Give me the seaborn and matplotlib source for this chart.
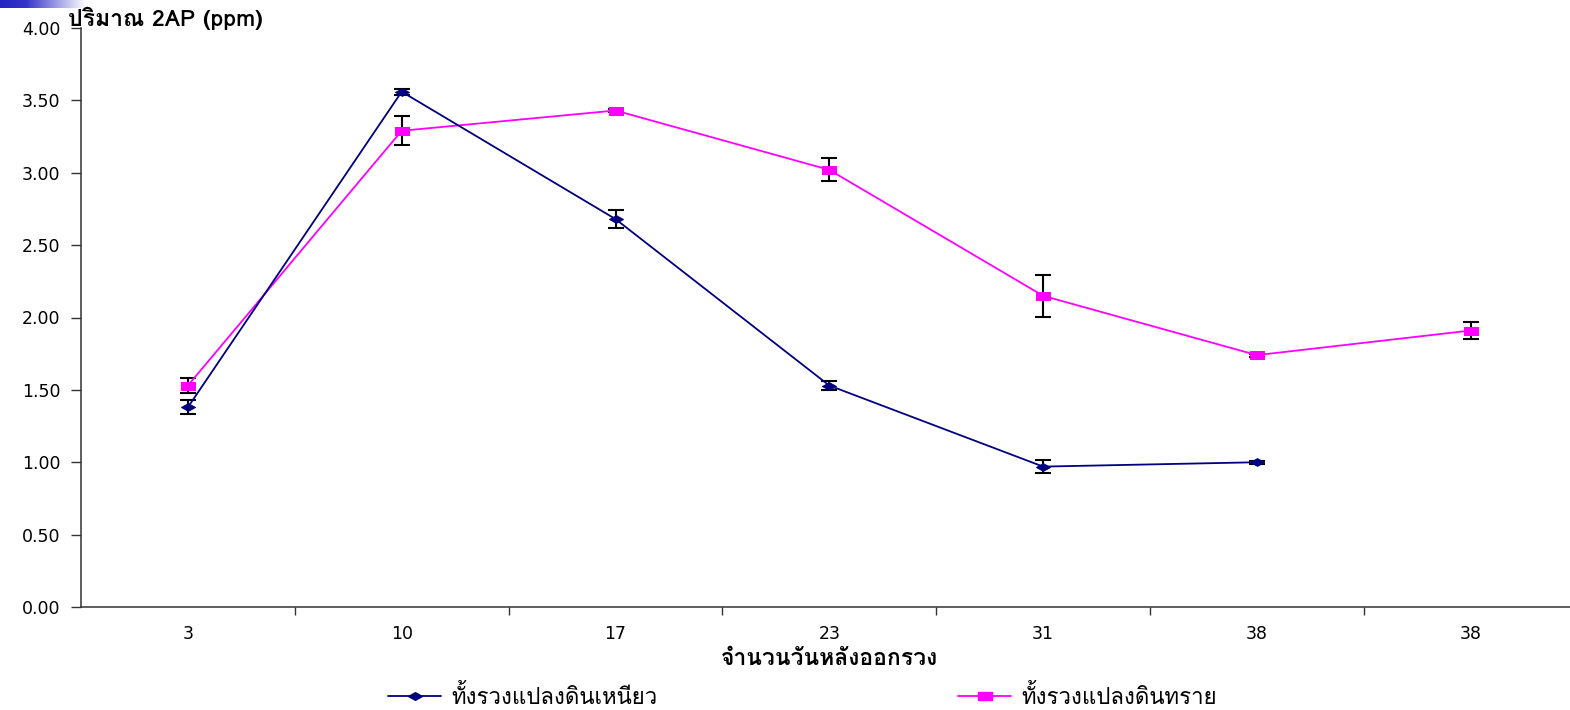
import numpy as np
import pandas as pd
import matplotlib
matplotlib.use("Agg")
import matplotlib.pyplot as plt
from matplotlib.lines import Line2D
from matplotlib.ticker import FixedLocator, FormatStrFormatter
from matplotlib.colors import LinearSegmentedColormap
import seaborn as sns

# Days after bunch emergence (tick labels) and 2AP content in ppm
day_labels = ["3", "10", "17", "23", "31", "38", "38"]
clay_values = [1.38, 3.56, 2.68, 1.53, 0.97, 1.00, np.nan]
clay_errors = [0.05, 0.02, 0.06, 0.03, 0.045, 0.01, np.nan]
sand_values = [1.53, 3.29, 3.43, 3.02, 2.15, 1.74, 1.91]
sand_errors = [0.05, 0.10, 0.01, 0.08, 0.145, 0.01, 0.06]

clay_label = "ทั้งรวงแปลงดินเหนียว"
sand_label = "ทั้งรวงแปลงดินทราย"
y_title = "ปริมาณ 2AP (ppm)"
x_title = "จำนวนวันหลังออกรวง"

CLAY_COLOR = "#000080"
SAND_COLOR = "#FF00FF"
AXIS_COLOR = "#333333"

sns.set_style("ticks")
# Thai text in Loma; numbers in the wider DejaVu Sans
THAI = ["Loma", "DejaVu Sans"]
NUM = ["DejaVu Sans", "Loma"]
plt.rcParams["font.family"] = NUM
plt.rcParams["text.color"] = "black"
plt.rcParams["xtick.labelcolor"] = "black"
plt.rcParams["ytick.labelcolor"] = "black"

df = pd.DataFrame({
    "pos": np.arange(len(day_labels)),
    "clay": clay_values,
    "clay_err": clay_errors,
    "sand": sand_values,
    "sand_err": sand_errors,
})
clay_df = df.dropna(subset=["clay"])

W, H = 1570, 710
fig = plt.figure(figsize=(W / 100, H / 100), dpi=100)
fig.patch.set_facecolor("white")

# Plot area runs slightly past the right edge of the slide
left_px, right_px, top_px, bottom_px = 81, 1577.6, 28, 607
ax = fig.add_axes([left_px / W, 1 - bottom_px / H,
                   (right_px - left_px) / W, (bottom_px - top_px) / H])

# Flattened diamond and rectangle markers
diamond = [(-1, 0), (0, 0.55), (1, 0), (0, -0.55), (-1, 0)]
rect = [(-1, -0.62), (1, -0.62), (1, 0.62), (-1, 0.62), (-1, -0.62)]
MS = 10

err_kw = dict(fmt="none", ecolor="black", elinewidth=1.5, capsize=5.5, capthick=1.5, zorder=1.5)
ax.errorbar(clay_df["pos"], clay_df["clay"], yerr=clay_df["clay_err"], **err_kw)
ax.errorbar(df["pos"], df["sand"], yerr=df["sand_err"], **err_kw)

sns.lineplot(data=df, x="pos", y="sand", ax=ax, color=SAND_COLOR, linewidth=1.3,
             marker=rect, markersize=MS, markeredgecolor=SAND_COLOR,
             markerfacecolor=SAND_COLOR, zorder=2, legend=False)
sns.lineplot(data=clay_df, x="pos", y="clay", ax=ax, color=CLAY_COLOR, linewidth=1.3,
             marker=diamond, markersize=MS, markeredgecolor=CLAY_COLOR,
             markerfacecolor=CLAY_COLOR, zorder=3, legend=False)

# Axes, ticks and spines
ax.set_xlim(-0.5, len(day_labels) - 0.5)
ax.set_ylim(0, 4)
ax.set_yticks(np.arange(0, 4.01, 0.5))
ax.yaxis.set_major_formatter(FormatStrFormatter("%.2f"))
ax.set_xticks(df["pos"])
ax.set_xticklabels(day_labels)
ax.xaxis.set_minor_locator(FixedLocator(np.arange(0.5, len(day_labels) - 0.5, 1.0)))
ax.tick_params(axis="x", which="major", length=0, pad=13, labelsize=12.5, labelcolor="black")
ax.tick_params(axis="x", which="minor", length=6, width=1, direction="out", color=AXIS_COLOR)
ax.tick_params(axis="y", which="major", length=7, width=1, direction="out",
               pad=8, labelsize=12.5, color=AXIS_COLOR, labelcolor="black")
ax.set_xlabel("")
ax.set_ylabel("")
sns.despine(ax=ax)
for side in ("left", "bottom"):
    ax.spines[side].set_color(AXIS_COLOR)
    ax.spines[side].set_linewidth(1.1)

# Axis titles
fig.text(68 / W, 1 - 18 / H, y_title, ha="left", va="center", color="black",
         fontsize=16.5, fontweight="bold", family=THAI)
fig.text((left_px + right_px) / 2 / W, 1 - 659 / H, x_title, ha="center", va="center",
         color="black", fontsize=16.5, fontweight="bold", family=THAI)

# Legend: one entry under each half of the chart
legend_kw = dict(loc="center left", frameon=False, borderpad=0, borderaxespad=0,
                 handlelength=2.4, handletextpad=0.45, labelcolor="black",
                 prop={"family": THAI, "size": 16})
clay_handle = Line2D([0], [0], color=CLAY_COLOR, linewidth=1.3, marker=diamond, markersize=MS,
                     markerfacecolor=CLAY_COLOR, markeredgecolor=CLAY_COLOR)
sand_handle = Line2D([0], [0], color=SAND_COLOR, linewidth=1.3, marker=rect, markersize=MS,
                     markerfacecolor=SAND_COLOR, markeredgecolor=SAND_COLOR)
fig.legend([clay_handle], [clay_label], bbox_to_anchor=(388 / W, 1 - 697 / H), **legend_kw)
fig.legend([sand_handle], [sand_label], bbox_to_anchor=(958 / W, 1 - 697 / H), **legend_kw)

# Gradient strip in the top-left corner of the slide
strip = fig.add_axes([0, 1 - 8 / H, 86 / W, 8 / H])
grad = np.linspace(0, 1, 256)[None, :]
cmap = LinearSegmentedColormap.from_list(
    "strip", [(0.0, "#2424c4"), (0.3, "#3434c8"), (1.0, "#ffffff")])
strip.imshow(grad, aspect="auto", cmap=cmap, extent=[0, 1, 0, 1])
strip.set_axis_off()

fig.savefig("out.png", dpi=100, facecolor="white")
